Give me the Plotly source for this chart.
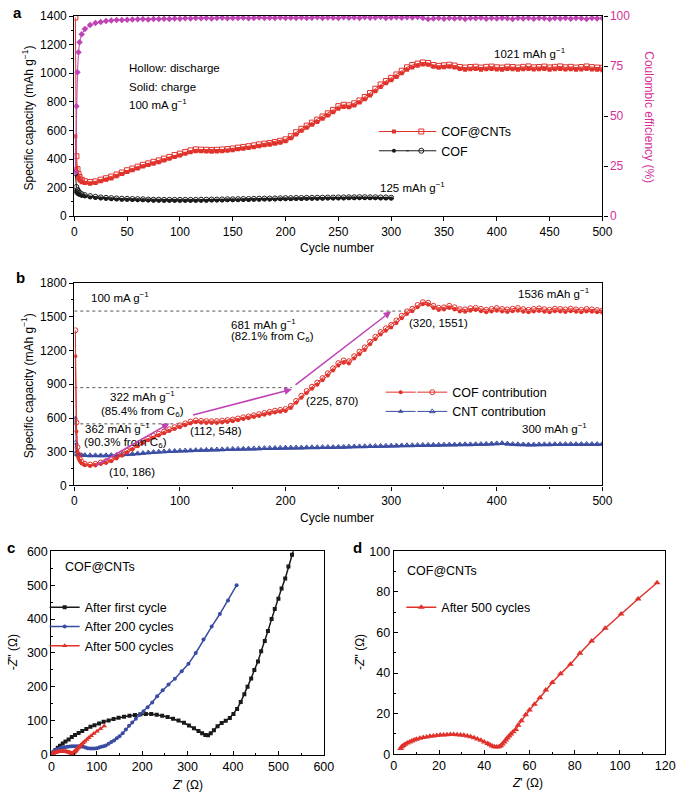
import plotly.graph_objects as go

# ---------------- data ----------------
cyc_early = [1, 2, 3, 4, 5, 7]
cycles = cyc_early + list(range(10, 501, 5))
cof_cycles = cyc_early + list(range(10, 301, 5))

# panel a: COF@CNTs (charge = solid, discharge = hollow)
cnt_charge = [560, 330, 285, 262, 250, 238,
              232, 228, 232, 245, 255, 265, 280, 295, 310, 322,
              335, 348, 358, 368, 378, 390, 402, 415, 425, 437,
              448, 455, 455, 453, 452, 453, 455, 458, 462, 468,
              473, 478, 483, 490, 496, 500, 507, 515, 525, 545,
              572, 598, 620, 640, 660, 682, 705, 728, 752, 765,
              762, 775, 795, 818, 845, 875, 905, 930, 952, 975,
              1000, 1025, 1040, 1052, 1062, 1060, 1045, 1038, 1042, 1045,
              1040, 1030, 1025, 1028, 1030, 1025, 1028, 1030, 1027, 1025,
              1030, 1028, 1025, 1028, 1030, 1026, 1028, 1030, 1025, 1028,
              1030, 1026, 1028, 1025, 1027, 1030, 1026, 1024, 1021]
cnt_discharge = [1390, 420, 330, 295, 275, 255,
                 245, 240, 244, 256, 266, 278, 292, 306, 322, 334,
                 347, 360, 370, 381, 391, 403, 415, 428, 438, 450,
                 461, 468, 466, 465, 464, 465, 467, 470, 474, 480,
                 485, 490, 496, 503, 508, 513, 520, 528, 538, 560,
                 588, 612, 634, 655, 676, 698, 720, 744, 770, 780,
                 776, 790, 810, 834, 862, 892, 922, 946, 968, 992,
                 1018, 1042, 1058, 1068, 1076, 1072, 1058, 1052, 1056, 1060,
                 1054, 1044, 1040, 1044, 1046, 1040, 1045, 1047, 1042, 1040,
                 1046, 1044, 1040, 1045, 1048, 1042, 1044, 1047, 1041, 1045,
                 1048, 1042, 1045, 1040, 1044, 1048, 1043, 1040, 1038]
# panel a: COF
cof_charge = [175, 165, 158, 152, 148, 142,
              138, 132, 128, 125, 122, 120, 118, 116, 115, 114,
              113, 112, 110, 109, 109, 108, 108, 108, 108, 108,
              108, 108, 109, 109, 110, 110, 111, 112, 112, 113,
              114, 114, 115, 116, 117, 117, 118, 119, 120, 120,
              121, 121, 122, 122, 123, 123, 124, 124, 125, 125,
              126, 126, 127, 127, 126, 126, 125, 125, 125]
cof_discharge = [300, 205, 185, 172, 165, 155,
                 148, 141, 136, 132, 129, 127, 125, 123, 122, 121,
                 120, 119, 117, 116, 116, 115, 115, 115, 115, 115,
                 115, 115, 116, 116, 117, 117, 118, 119, 119, 120,
                 121, 121, 122, 123, 124, 124, 125, 126, 127, 127,
                 128, 128, 129, 129, 130, 130, 131, 131, 132, 132,
                 133, 133, 134, 134, 133, 133, 132, 132, 130]
# panel a: Coulombic efficiency of COF@CNTs (%)
ce_values = [22, 55, 72, 82, 87, 91,
             93.5, 95.5, 96.5, 97, 97.5, 97.8, 98, 98, 98.2, 98.3,
             98.4, 98.5, 98.3, 98.6, 98.5, 98.7, 98.6, 98.8, 98.7, 98.9,
             98.8, 99, 98.9, 99.1, 98.8, 99, 99.2, 98.9, 99.1, 99,
             99.2, 98.9, 99.1, 99.3, 99, 99.2, 99.1, 99.3, 99, 99.2,
             99.1, 99.3, 99, 99.2, 99.4, 99.1, 99.3, 99.2, 99, 99.4,
             99.2, 99.3, 99.1, 99.4, 99.2, 99.3, 99.5, 99.1, 99.3, 99.4,
             99.2, 99.4, 99.3, 99.5, 99.1, 98.5, 98.8, 99, 98.7, 99,
             98.8, 99.1, 98.6, 99, 98.9, 99.2, 98.7, 99, 98.8, 99.1,
             98.9, 98.6, 99, 98.8, 99.1, 98.7, 99, 98.9, 98.6, 99,
             98.8, 99.1, 98.7, 99, 98.9, 98.6, 99, 98.8, 98.9]

# panel b: COF contribution
cofc_charge = [1150, 480, 300, 250, 220, 195,
               180, 172, 178, 190, 200, 215, 240, 265, 292, 320,
               348, 378, 402, 424, 444, 464, 484, 502, 518, 536,
               552, 562, 558, 556, 555, 556, 560, 565, 570, 580,
               590, 598, 608, 618, 628, 638, 648, 655, 662, 690,
               735, 780, 822, 860, 895, 935, 978, 1022, 1068, 1092,
               1085, 1130, 1168, 1205, 1255, 1300, 1342, 1375, 1405, 1445,
               1488, 1525, 1550, 1585, 1612, 1608, 1578, 1560, 1565, 1578,
               1565, 1548, 1545, 1555, 1560, 1550, 1540, 1548, 1555, 1548,
               1542, 1550, 1555, 1545, 1540, 1548, 1552, 1545, 1540, 1550,
               1548, 1542, 1550, 1545, 1540, 1548, 1545, 1540, 1536]
cofc_discharge = [1380, 560, 340, 275, 240, 210,
                  192, 186, 192, 204, 216, 232, 256, 282, 308, 336,
                  364, 394, 418, 440, 460, 480, 500, 518, 535, 552,
                  568, 578, 574, 572, 571, 572, 576, 581, 586, 596,
                  606, 614, 624, 634, 645, 655, 665, 672, 680, 708,
                  752, 798, 840, 878, 915, 955, 998, 1042, 1088, 1112,
                  1105, 1150, 1190, 1228, 1278, 1322, 1364, 1398, 1428, 1468,
                  1510, 1548, 1572, 1605, 1630, 1625, 1598, 1580, 1584, 1598,
                  1585, 1568, 1566, 1576, 1580, 1570, 1562, 1570, 1578, 1570,
                  1565, 1572, 1578, 1568, 1562, 1570, 1575, 1568, 1562, 1572,
                  1570, 1565, 1572, 1566, 1562, 1570, 1566, 1560, 1556]
# panel b: CNT contribution
cntc_charge = [600, 300, 278, 272, 268, 266,
               264, 263, 262, 262, 263, 264, 266, 268, 272, 276,
               280, 284, 288, 292, 295, 298, 300, 302, 304, 305,
               306, 308, 310, 312, 313, 314, 316, 318, 319, 320,
               321, 322, 323, 325, 326, 327, 328, 329, 330, 331,
               332, 332, 333, 334, 334, 335, 336, 336, 337, 338,
               340, 341, 342, 343, 344, 345, 346, 347, 348, 349,
               350, 351, 352, 353, 354, 355, 355, 356, 357, 358,
               358, 359, 360, 360, 361, 362, 364, 366, 368, 370,
               366, 362, 360, 359, 358, 358, 359, 360, 360, 361,
               361, 362, 362, 361, 362, 363, 362, 363, 364]
cntc_discharge = [380, 285, 276, 272, 270, 268,
                  270, 268, 268, 267, 268, 270, 271, 274, 277, 281,
                  285, 289, 293, 297, 300, 303, 305, 307, 309, 311,
                  312, 314, 316, 317, 319, 320, 321, 323, 325, 326,
                  327, 328, 329, 330, 332, 333, 334, 335, 336, 337,
                  338, 338, 339, 340, 340, 341, 342, 342, 343, 344,
                  346, 347, 348, 349, 350, 351, 352, 353, 354, 355,
                  356, 357, 358, 359, 360, 361, 361, 362, 363, 364,
                  364, 365, 366, 366, 367, 368, 370, 372, 374, 376,
                  372, 368, 366, 365, 364, 364, 365, 366, 366, 367,
                  367, 368, 368, 367, 368, 369, 368, 369, 370]

# panel b: guide lines (capacity level, end cycle) and arrows
guide_levels = [548, 870, 1551]
guide_ends = [109, 206, 314]
arrow_tails = [(19, 170), (111, 624), (208, 884)]
arrow_heads = [(90, 552), (206, 855), (300, 1549)]

# panel c / d: EIS (Z', -Z'')
eis1_zre = [2, 5, 9, 14, 19, 25, 31, 38, 45, 52, 60, 68, 77, 86, 95, 105, 115, 126, 137, 148,
            160, 172, 184, 196, 208, 220, 232, 244, 256, 268, 280, 292, 303, 314, 324, 332, 339, 345, 351, 358,
            366, 375, 384, 393, 401, 409, 417, 425, 432, 440, 447, 455, 462, 470, 477, 485, 492, 500, 507, 515,
            522, 530, 538]
eis1_zim = [3, 8, 14, 20, 26, 33, 39, 45, 52, 58, 64, 70, 76, 82, 87, 92, 97, 101, 105, 109,
            112, 115, 117, 119, 120, 120, 118, 115, 111, 106, 101, 94, 86, 78, 70, 63, 58, 57, 63, 72,
            84, 93, 100, 108, 120, 135, 155, 178, 200, 225, 250, 275, 305, 335, 365, 400, 430, 460, 490, 520,
            555, 590, 625]
eis200_zre = [1, 3, 5, 8, 11, 14, 18, 22, 26, 30, 35, 40, 45, 50, 55, 60, 65, 70, 75, 80,
              85, 90, 95, 100, 105, 110, 115, 120, 126, 132, 138, 144, 150, 157, 164, 171, 178, 186, 194, 203,
              212, 222, 233, 245, 258, 272, 287, 302, 318, 335, 353, 371, 389, 408]
eis200_zim = [3, 6, 9, 12, 14, 16, 18, 20, 21, 22, 23, 24, 25, 25, 25, 25, 24, 23, 21, 19,
              18, 18, 18, 19, 21, 23, 25, 27, 32, 37, 42, 48, 54, 63, 74, 85, 95, 106, 117, 128,
              140, 154, 172, 190, 207, 224, 246, 268, 300, 340, 378, 415, 455, 500]
eis500_zre = [3.0, 3.5, 4.2, 5.0, 6.0, 7.0, 8.0, 9.0, 10.0, 11.5, 13.0, 14.5, 16.0, 17.5, 19.0, 20.5,
              22.0, 23.5, 25.0, 26.5, 28.0, 29.5, 31.0, 32.5, 34.0, 35.5, 37.0, 38.5, 40.0, 41.5, 42.5,
              43.5, 44.5, 45.5, 46.5, 47.3, 48.0, 48.8, 49.5, 50.2, 51.0, 51.8, 52.8, 53.9, 55.0, 56.4,
              58.3, 60.0, 62.2, 64.6, 67.2, 70.1, 73.7, 78.1, 82.3, 87.5, 93.5, 100.5, 108.0, 116.4]
eis500_zim = [2.8, 3.6, 4.3, 4.9, 5.5, 6.0, 6.5, 7.0, 7.4, 7.8, 8.2, 8.5, 8.8, 9.0, 9.2, 9.4,
              9.5, 9.6, 9.7, 9.7, 9.6, 9.5, 9.3, 9.0, 8.6, 8.1, 7.5, 6.8, 6.0, 5.2, 4.6,
              4.0, 3.6, 3.5, 3.7, 4.2, 5.0, 6.0, 7.0, 8.0, 9.0, 10.0, 11.0, 12.1, 14.2, 16.5,
              19.4, 21.8, 24.6, 27.8, 31.6, 35.3, 39.6, 44.3, 49.8, 55.8, 62.1, 69.1, 76.5, 84.5]

# ---------------- style ----------------
RED = "#e0312b"
BLACK = "#1a1a1a"
MAG = "#c043b6"
MAGTXT = "#d42f98"
BLUE = "#3a4ca2"
GRAY = "#555555"
FONT = "Liberation Sans, Arial, sans-serif"
TICKF = dict(family=FONT, size=12, color="black")

fig = go.Figure()


def series(x, y, xa, ya, color, symbol, size, legend, name=" ", rank=1, width=1, show=True):
    hollow = symbol.endswith("-open")
    fig.add_trace(go.Scatter(
        x=x, y=y, mode="lines+markers", xaxis=xa, yaxis=ya, name=name, legend=legend,
        legendrank=rank, showlegend=show, line=dict(color=color, width=width),
        marker=dict(symbol=symbol, size=size, color=color, line=dict(width=1 if hollow else 0))))


# ---- panel a ----
series(cycles, cnt_discharge, "x", "y", RED, "square-open", 5, "legend2", "COF@CNTs", 1)
series(cycles, cnt_charge, "x", "y", RED, "square", 4, "legend", " ", 1)
series(cof_cycles, cof_discharge, "x", "y", BLACK, "circle-open", 5, "legend2", "COF", 2)
series(cof_cycles, cof_charge, "x", "y", BLACK, "circle", 4, "legend", " ", 2)
fig.add_trace(go.Scatter(x=cycles, y=ce_values, mode="lines+markers", xaxis="x", yaxis="y2",
                         line=dict(color=MAG, width=1), showlegend=False,
                         marker=dict(symbol="diamond", size=5, color=MAG)))

# ---- panel b ----
for lvl, end in zip(guide_levels, guide_ends):
    fig.add_trace(go.Scatter(x=[0, end], y=[lvl, lvl], mode="lines", xaxis="x3", yaxis="y3",
                             line=dict(color=GRAY, width=1, dash="3px,3px"), showlegend=False,
                             hoverinfo="skip"))
series(cycles, cntc_discharge, "x3", "y3", BLUE, "triangle-up-open", 5, "legend4", "CNT contribution", 2)
series(cycles, cntc_charge, "x3", "y3", BLUE, "triangle-up", 5, "legend3", " ", 2)
series(cycles, cofc_discharge, "x3", "y3", RED, "circle-open", 5, "legend4", "COF contribution", 1)
series(cycles, cofc_charge, "x3", "y3", RED, "circle", 4, "legend3", " ", 1)

# ---- panel c ----
series(eis1_zre, eis1_zim, "x4", "y4", BLACK, "square", 4, "legend5", "After first cycle", 1, 1.5)
series(eis200_zre, eis200_zim, "x4", "y4", BLUE, "circle", 4, "legend5", "After 200 cycles", 2, 1.5)
series(eis500_zre, eis500_zim, "x4", "y4", RED, "triangle-up", 5, "legend5", "After 500 cycles", 3, 1.5)

# ---- panel d ----
series(eis500_zre, eis500_zim, "x5", "y5", RED, "triangle-up", 6, "legend6", "After 500 cycles", 1, 1.5)


def ax(domain, rng, dtick, minor=None, ticks="outside", anchor=None, **kw):
    d = dict(domain=domain, range=rng, dtick=dtick, tick0=0, ticks=ticks, ticklen=4, tickwidth=1,
             tickcolor="black", showline=True, linecolor="black", linewidth=1.2, mirror=True,
             showgrid=False, zeroline=False, tickfont=TICKF, anchor=anchor)
    if minor:
        d["minor"] = dict(dtick=minor, ticks=ticks, ticklen=2, tickcolor="black")
    d.update(kw)
    return d


xa = [0.1061, 0.892]
ann = []


def txt(text, x, y, xref, yref, xanchor="center", yanchor="middle", size=11.5, color="black", angle=0,
        bold=False):
    ann.append(dict(text=("<b>%s</b>" % text) if bold else text, x=x, y=y, xref=xref, yref=yref,
                    xanchor=xanchor, yanchor=yanchor, showarrow=False, textangle=angle,
                    font=dict(family=FONT, size=size, color=color)))


# panel letters
txt("a", 0.022, 0.993, "paper", "paper", size=15, bold=True)
txt("b", 0.026, 0.656, "paper", "paper", size=15, bold=True)
txt("c", 0.012, 0.312, "paper", "paper", size=15, bold=True)
txt("d", 0.528, 0.312, "paper", "paper", size=15, bold=True)

# axis titles
txt("Specific capacity (mAh g<sup>−1</sup>)", 0.037, 0.859, "paper", "paper", angle=-90, size=12)
txt("Coulombic efficiency (%)", 0.962, 0.859, "paper", "paper", angle=90, size=12, color=MAGTXT)
txt("Cycle number", 0.497, 0.693, "paper", "paper", size=12)
txt("Specific capacity (mAh g<sup>−1</sup>)", 0.037, 0.518, "paper", "paper", angle=-90, size=12)
txt("Cycle number", 0.497, 0.349, "paper", "paper", size=12)
txt("-<i>Z</i>'' (Ω)", 0.015, 0.178, "paper", "paper", angle=-90, size=12)
txt("<i>Z</i>' (Ω)", 0.275, 0.009, "paper", "paper", size=12)
txt("-<i>Z</i>'' (Ω)", 0.531, 0.178, "paper", "paper", angle=-90, size=12)
txt("<i>Z</i>' (Ω)", 0.781, 0.011, "paper", "paper", size=12)

# panel a notes
txt("Hollow: discharge", 50, 1034, "x", "y", xanchor="left")
txt("Solid: charge", 50, 906, "x", "y", xanchor="left")
txt("100 mA g<sup>−1</sup>", 50, 782, "x", "y", xanchor="left")
txt("1021 mAh g<sup>−1</sup>", 431, 1141, "x", "y")
txt("125 mAh g<sup>−1</sup>", 320, 208, "x", "y")

# panel b notes
txt("100 mA g<sup>−1</sup>", 14, 1679, "x3", "y3", xanchor="left")
txt("1536 mAh g<sup>−1</sup>", 490, 1708, "x3", "y3", xanchor="right")
txt("681 mAh g<sup>−1</sup>", 146, 1439, "x3", "y3", xanchor="left")
txt("(82.1% from C<sub>6</sub>)", 146, 1324, "x3", "y3", xanchor="left")
txt("(320, 1551)", 345, 1448, "x3", "y3")
txt("322 mAh g<sup>−1</sup>", 32, 798, "x3", "y3", xanchor="left")
txt("(85.4% from C<sub>6</sub>)", 23, 653, "x3", "y3", xanchor="left")
txt("(225, 870)", 244, 754, "x3", "y3")
txt("362 mAh g<sup>−1</sup>", 8, 509, "x3", "y3", xanchor="left")
txt("(90.3% from C<sub>6</sub>)", 7, 379, "x3", "y3", xanchor="left")
txt("(112, 548)", 134, 480, "x3", "y3")
txt("(10, 186)", 55, 118, "x3", "y3")
txt("300 mAh g<sup>−1</sup>", 487, 509, "x3", "y3", xanchor="right")

for (tx, ty), (hx, hy) in zip(arrow_tails, arrow_heads):
    ann.append(dict(text="", x=hx, y=hy, ax=tx, ay=ty, xref="x3", yref="y3", axref="x3", ayref="y3",
                    showarrow=True, arrowhead=2, arrowsize=1, arrowwidth=1.5, arrowcolor=MAG))

# panel c/d headers
txt("COF@CNTs", 0.090, 0.287, "paper", "paper", xanchor="left", size=12.5)
txt("COF@CNTs", 0.5985, 0.282, "paper", "paper", xanchor="left", size=12.5)

LEG = dict(bgcolor="rgba(0,0,0,0)", borderwidth=0, font=dict(family=FONT, size=12.5, color="black"),
           xanchor="left", yanchor="top", itemwidth=30, tracegroupgap=0, traceorder="normal")

fig.update_layout(
    width=685, height=799, margin=dict(l=0, r=0, t=0, b=0),
    paper_bgcolor="white", plot_bgcolor="white",
    font=dict(family=FONT, size=11.5, color="black"),
    xaxis=ax(xa, [0, 500], 50, anchor="y"),
    yaxis=ax([0.7334, 0.9884], [0, 1400], 200, minor=100, anchor="x", mirror=False),
    yaxis2=dict(overlaying="y", side="right", anchor="x", range=[0, 100], dtick=25, tick0=0,
                ticks="outside", ticklen=4, tickcolor="black", showline=True, linecolor="black",
                linewidth=1.2, showgrid=False, zeroline=False,
                tickfont=dict(family=FONT, size=12, color=MAGTXT)),
    xaxis3=ax(xa, [0, 500], 100, minor=50, anchor="y3"),
    yaxis3=ax([0.3905, 0.6483], [0, 1800], 300, minor=150, anchor="x3"),
    xaxis4=ax([0.072, 0.4774], [0, 600], 100, minor=50, ticks="inside", anchor="y4",
              tickfont=dict(family=FONT, size=12.5, color="black")),
    yaxis4=ax([0.0476, 0.3066], [0, 600], 100, minor=50, ticks="inside", anchor="x4",
              tickfont=dict(family=FONT, size=12.5, color="black")),
    xaxis5=ax([0.5815, 0.9854], [0, 120], 20, minor=10, ticks="inside", anchor="y5",
              tickfont=dict(family=FONT, size=12.5, color="black")),
    yaxis5=ax([0.0482, 0.3066], [0, 100], 20, minor=10, ticks="inside", anchor="x5",
              tickfont=dict(family=FONT, size=12.5, color="black")),
    legend=dict(LEG, x=0.552, y=0.860),
    legend2=dict(LEG, x=0.5927, y=0.860),
    legend3=dict(LEG, x=0.562, y=0.528),
    legend4=dict(LEG, x=0.609, y=0.528),
    legend5=dict(LEG, x=0.062, y=0.254),
    legend6=dict(LEG, x=0.5927, y=0.254),
    annotations=ann,
)

fig.write_html("out.html", config={"displayModeBar": False},
               post_script="document.body.style.margin='0px';")
